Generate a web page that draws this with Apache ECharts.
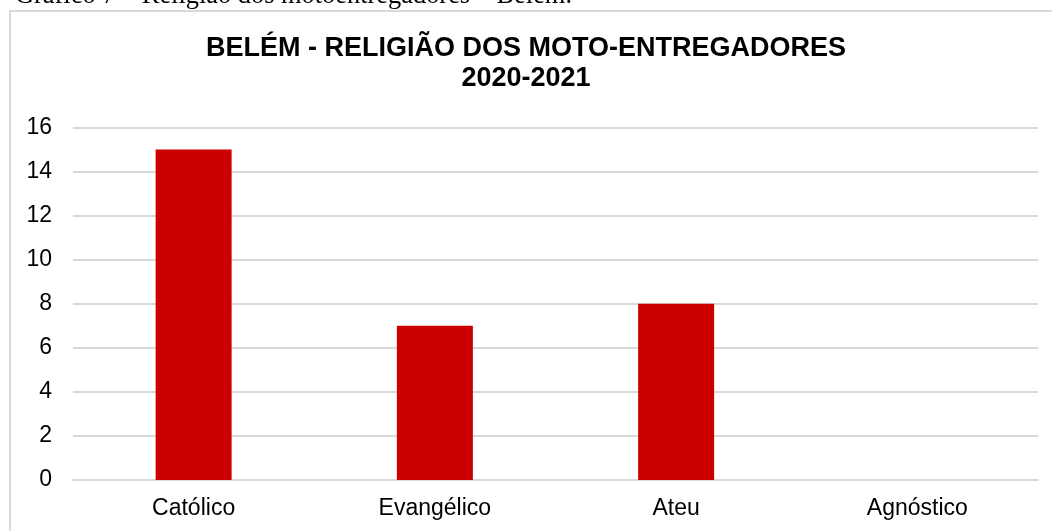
<!DOCTYPE html>
<html>
<head>
<meta charset="utf-8">
<script src="https://cdn.jsdelivr.net/npm/echarts@6/dist/echarts.min.js"></script>
<style>
html,body{margin:0;padding:0;background:#fff;}
#chart{width:1052px;height:531px;}
</style>
</head>
<body>
<div id="chart"></div>
<script>
const categories = ['Católico', 'Evangélico', 'Ateu', 'Agnóstico'];
const values = [15, 7, 8, 0];
const yTicks = { min: 0, max: 16, interval: 2 };
const titleLines = ['BELÉM - RELIGIÃO DOS MOTO-ENTREGADORES', '2020-2021'];
const caption = 'Gráfico 7 – Religião dos motoentregadores – Belém.';

const chart = echarts.init(document.getElementById('chart'), null, { renderer: 'canvas' });
chart.setOption({
  backgroundColor: '#ffffff',
  animation: false,
  title: {
    text: titleLines.join('\n'),
    left: 'center',
    top: 29,
    textStyle: {
      fontFamily: 'Liberation Sans, Arial, sans-serif',
      fontSize: 27,
      fontWeight: 'bold',
      lineHeight: 30,
      color: '#000000',
      align: 'center'
    }
  },
  graphic: [
    {
      type: 'rect',
      shape: { x: 10, y: 11, width: 1200, height: 700 },
      style: { fill: 'none', stroke: '#d9d9d9', lineWidth: 2 },
      silent: true,
      z: -1
    },
    {
      type: 'text',
      x: 15,
      y: -4,
      style: {
        text: caption,
        font: '26.4px "Liberation Serif", "Times New Roman", serif',
        fill: '#000000',
        verticalAlign: 'middle',
        align: 'left'
      },
      silent: true
    }
  ],
  grid: { left: 73, right: 14, top: 127.5, bottom: 51, containLabel: false },
  xAxis: {
    type: 'category',
    data: categories,
    axisLine: { show: true, lineStyle: { color: '#d9d9d9', width: 2 } },
    axisTick: { show: false },
    axisLabel: {
      margin: 17,
      fontFamily: 'Liberation Sans, Arial, sans-serif',
      fontSize: 23,
      color: '#000000'
    }
  },
  yAxis: {
    type: 'value',
    min: yTicks.min,
    max: yTicks.max,
    interval: yTicks.interval,
    axisLine: { show: false },
    axisTick: { show: false },
    splitLine: { show: true, lineStyle: { color: '#d9d9d9', width: 2 } },
    axisLabel: {
      margin: 21,
      fontFamily: 'Liberation Sans, Arial, sans-serif',
      fontSize: 23,
      color: '#000000'
    }
  },
  series: [{
    type: 'bar',
    data: values,
    barWidth: '31.5%',
    itemStyle: { color: '#cc0000' }
  }]
});
</script>
</body>
</html>
